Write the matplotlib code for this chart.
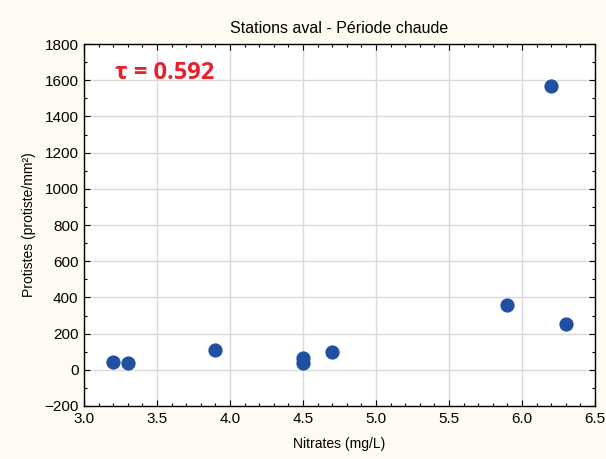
import matplotlib
matplotlib.use("Agg")
import matplotlib.pyplot as plt
from matplotlib.ticker import MultipleLocator

nitrates = [3.2, 3.3, 3.9, 4.5, 4.5, 4.7, 5.9, 6.2, 6.3]
protistes = [43, 38, 109, 65, 40, 98, 358, 1568, 253]
title = "Stations aval - Période chaude"
xlabel = "Nitrates (mg/L)"
ylabel = "Protistes (protiste/mm²)"
tau_text = "τ = 0.592"

plt.rcParams['font.family'] = ['Liberation Sans', 'DejaVu Sans']

fig = plt.figure(figsize=(6.06, 4.59), dpi=100, facecolor='#FFFBF2')
ax = fig.add_axes([0.1386, 0.1155, 0.8434, 0.7885])
ax.set_facecolor('white')

ax.scatter(nitrates, protistes, s=105, color='#2150A3', zorder=3, linewidths=0)

ax.set_xlim(3.0, 6.5)
ax.set_ylim(-200, 1800)
ax.xaxis.set_major_locator(MultipleLocator(0.5))
ax.xaxis.set_minor_locator(MultipleLocator(0.1))
ax.yaxis.set_major_locator(MultipleLocator(200))
ax.yaxis.set_minor_locator(MultipleLocator(100))
ax.xaxis.set_major_formatter(matplotlib.ticker.FormatStrFormatter('%.1f'))

ax.grid(True, which='major', color='#D9D9D9', linewidth=1.0, zorder=0)
ax.set_axisbelow(True)
ax.tick_params(which='both', direction='in', top=True, right=True, color='black')
ax.tick_params(which='major', length=4, width=0.8, labelsize=11, pad=4)
ax.tick_params(which='minor', length=2, width=0.8)
for sp in ax.spines.values():
    sp.set_color('black')
    sp.set_linewidth(1.0)

ax.set_title(title, fontsize=11.5, pad=8)
ax.set_xlabel(xlabel, fontsize=10, labelpad=8)
ax.set_ylabel(ylabel, fontsize=10, labelpad=6)

ax.text(0.06, 0.92, tau_text, transform=ax.transAxes, color='#E8202A',
        fontsize=17, fontweight='bold', family=['Open Sans', 'DejaVu Sans'],
        va='center', ha='left')

fig.savefig('out.png', dpi=100, facecolor=fig.get_facecolor())
